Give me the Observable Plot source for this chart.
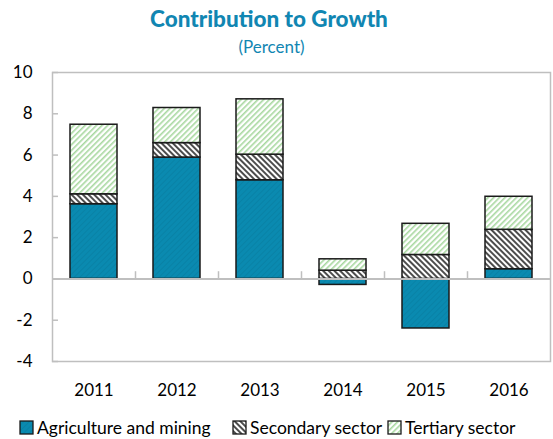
<!DOCTYPE html>
<html>
<head>
<meta charset="utf-8">
<script src="https://cdn.jsdelivr.net/npm/d3@7"></script>
<script src="https://cdn.jsdelivr.net/npm/@observablehq/plot@0.6"></script>
<style>
  html, body { margin: 0; padding: 0; background: #fff; overflow: hidden; width: 553px; height: 439px; }
  body { position: relative; font-family: Lato, "Open Sans", sans-serif; }
  #title { position: absolute; left: 0; width: 538px; top: 5px; text-align: center; font-weight: 900; font-size: 22.5px; color: #1186b2; }
  #subtitle { position: absolute; left: 0; width: 543px; top: 36px; text-align: center; font-size: 17px; color: #1186b2; }
  #chart { position: absolute; left: 0; top: 0; }
  .item { position: absolute; top: 417px; display: flex; align-items: center; white-space: nowrap; font-size: 17.5px; color: #000; }
  .item svg { margin-right: 3px; }
</style>
</head>
<body>
<div id="chart"></div>
<div id="title">Contribution to Growth</div>
<div id="subtitle">(Percent)</div>
<div id="legend"></div>
<script>
const years = ["2011", "2012", "2013", "2014", "2015", "2016"];
const sectors = ["Agriculture and mining", "Secondary sector", "Tertiary sector"];
const agriculture = [3.62, 5.88, 4.78, -0.29, -2.40, 0.47];
const secondary = [0.48, 0.70, 1.24, 0.40, 1.16, 1.91];
const tertiary = [3.37, 1.70, 2.68, 0.55, 1.51, 1.60];
const yTicks = [-4, -2, 0, 2, 4, 6, 8, 10];
const patternIds = ["pAgri", "pSec", "pTer"];
const legendLeft = [19, 232, 387];

const series = [agriculture, secondary, tertiary];
const data = [];
years.forEach((yr, i) => {
  sectors.forEach((s, j) => data.push({year: yr, sector: s, value: series[j][i]}));
});

const defs = `
<pattern id="pAgri" patternUnits="userSpaceOnUse" width="4" height="4" patternTransform="rotate(45)">
  <rect width="4" height="4" fill="#0a8ab0"/>
  <rect width="1" height="4" fill="#0982a6"/>
</pattern>
<pattern id="pSec" patternUnits="userSpaceOnUse" width="4" height="4" patternTransform="rotate(-45)">
  <rect width="4" height="4" fill="#ffffff"/>
  <rect width="2" height="4" fill="#4d4d4d"/>
</pattern>
<pattern id="pTer" patternUnits="userSpaceOnUse" width="4" height="4" patternTransform="rotate(45)">
  <rect width="4" height="4" fill="#ffffff"/>
  <rect width="1.6" height="4" fill="#a8d8a0"/>
</pattern>`;

const W = 553, H = 405;
const step = (W - 52 - 3) / years.length;

const chart = Plot.plot({
  width: W,
  height: H,
  marginTop: 72,
  marginBottom: 44,
  marginLeft: 52,
  marginRight: 3,
  style: {fontFamily: "Lato, 'Open Sans', sans-serif", fontSize: "17px", color: "#000", background: "transparent"},
  x: {domain: years, paddingInner: 0.43, paddingOuter: 0.215, label: null},
  y: {domain: [-4, 10], label: null},
  color: {type: "ordinal", domain: sectors, range: patternIds.map(id => `url(#${id})`)},
  marks: [
    Plot.frame({stroke: "#bfbfbf", strokeWidth: 1.5}),
    Plot.axisY({ticks: yTicks, tickSize: -6, stroke: "#bfbfbf", strokeWidth: 1.5, tickFormat: () => ""}),
    Plot.axisY({ticks: yTicks, tickSize: 0, tickPadding: 20, tickFormat: d => String(d)}),
    Plot.axisX({tickSize: 0, tickPadding: 22}),
    Plot.ruleX(years.slice(1), {x: d => d, y1: 0, y2: 0.35, dx: -step / 2, stroke: "#bfbfbf", strokeWidth: 1.5}),
    Plot.barY(data, Plot.stackY({x: "year", y: "value", fill: "sector", order: sectors, stroke: "#1a1a1a", strokeWidth: 1.5})),
    Plot.ruleY([0], {stroke: "#bfbfbf", strokeWidth: 2})
  ]
});

const svgDefs = document.createElementNS("http://www.w3.org/2000/svg", "defs");
svgDefs.innerHTML = defs;
chart.insertBefore(svgDefs, chart.firstChild);
document.getElementById("chart").appendChild(chart);

const legend = document.getElementById("legend");
sectors.forEach((s, j) => {
  const item = document.createElement("div");
  item.className = "item";
  item.style.left = legendLeft[j] + "px";
  item.innerHTML = `<svg width="15" height="15"><defs>${defs.replace(/id="(p\w+)"/g, 'id="L$1"')}</defs><rect x="1" y="1" width="13" height="13" fill="url(#L${patternIds[j]})" stroke="#1a1a1a" stroke-width="1.3"/></svg>`;
  const t = document.createElement("span");
  t.textContent = s;
  item.appendChild(t);
  legend.appendChild(item);
});
</script>
</body>
</html>
